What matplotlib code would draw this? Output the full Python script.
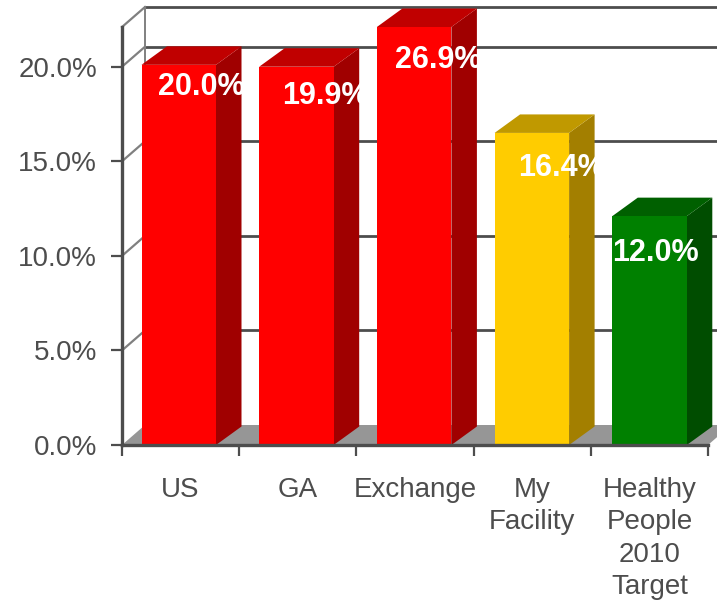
import matplotlib
matplotlib.use('Agg')
import matplotlib.pyplot as plt
from matplotlib.patches import Polygon

plt.rcParams['font.family'] = ['Liberation Sans', 'DejaVu Sans']

categories = ['US', 'GA', 'Exchange', 'My\nFacility', 'Healthy\nPeople\n2010\nTarget']
bar_values = [20.1, 20.0, 22.1, 16.5, 12.1]
bar_labels = ['20.0%', '19.9%', '26.9%', '16.4%', '12.0%']
y_ticks = [0, 5, 10, 15, 20]

front_colors = ['#ff0000', '#ff0000', '#ff0000', '#ffcc00', '#008000']
top_colors = ['#c00000', '#c00000', '#c00000', '#c09900', '#006000']
side_colors = ['#a00000', '#a00000', '#a00000', '#a37f00', '#004d00']

W, H = 717, 600
DARK = '#4d4d4d'
ymax = 22.1

fig = plt.figure(figsize=(W / 100, H / 100), dpi=100, facecolor='white')
ax = fig.add_axes([122 / W, 1 - 445 / H, 586 / W, 418 / H])
ax.set_xlim(0, 5)
ax.set_ylim(0, ymax)
ax.patch.set_visible(False)

# px to data units
px = 5 / 586.0
py = ymax / 418.0

# chart depth
wall_dx = 23 * px
wall_dy = 20 * py

# floor
ax.add_patch(Polygon([(0, 0), (wall_dx, wall_dy), (5 + wall_dx, wall_dy), (5, 0)],
                     fc='#969696', ec='none', clip_on=False, zorder=1))

# back wall lines
for v in y_ticks[1:] + [ymax]:
    ax.plot([wall_dx, 5 + wall_dx], [v + wall_dy, v + wall_dy], color=DARK, lw=2.0,
            clip_on=False, zorder=1.5, solid_capstyle='butt')
    ax.plot([0, wall_dx], [v, v + wall_dy], color='#808080', lw=1.6,
            clip_on=False, zorder=1.5)
ax.plot([wall_dx, wall_dx], [wall_dy, ymax + wall_dy], color='#808080', lw=1.4,
        clip_on=False, zorder=1.5)

# bars
bar_w = 74.5 * px
bar_off = 19.5 * px
bar_pitch = 117.7 * px
dep_x = 25.5 * px
dep_y = 18.5 * py

for i, v in enumerate(bar_values):
    x0 = i * bar_pitch + bar_off
    x1 = x0 + bar_w
    ax.add_patch(Polygon([(x1, 0), (x1 + dep_x, dep_y), (x1 + dep_x, v + dep_y), (x1, v)],
                         fc=side_colors[i], ec='none', clip_on=False, zorder=2))
    ax.add_patch(Polygon([(x0, v), (x0 + dep_x, v + dep_y), (x1 + dep_x, v + dep_y), (x1, v)],
                         fc=top_colors[i], ec='none', clip_on=False, zorder=2))
    ax.add_patch(Polygon([(x0, 0), (x0, v), (x1, v), (x1, 0)],
                         fc=front_colors[i], ec='none', clip_on=False, zorder=3))

# data labels sit at odd places in the original
label_dx = [23, 29, 24, 30, 6]
label_dy = [22, 29, 33, 35, 37]
for i, v in enumerate(bar_values):
    ax.text(i * bar_pitch + bar_off + bar_w / 2 + label_dx[i] * px, v - label_dy[i] * py, bar_labels[i],
            color='white', fontsize=22, fontweight='bold', ha='center', va='center',
            clip_on=True, zorder=4)

# axes
for s in ('top', 'right'):
    ax.spines[s].set_visible(False)
for s in ('left', 'bottom'):
    ax.spines[s].set_color(DARK)
    ax.spines[s].set_linewidth(2.4)
    ax.spines[s].set_zorder(5)

ax.set_yticks(y_ticks)
ax.set_yticklabels(['%.1f%%' % v for v in y_ticks])
ax.tick_params(axis='y', length=8, width=1.6, color=DARK, labelcolor=DARK,
               labelsize=20, pad=10)

ax.set_xticks([i + 0.5 for i in range(5)])
ax.set_xticklabels(categories, linespacing=1.32)
ax.set_xticks(range(6), minor=True)
ax.tick_params(axis='x', which='major', length=0, labelcolor=DARK, labelsize=20, pad=23)
ax.tick_params(axis='x', which='minor', length=8, width=1.6, color=DARK)

fig.savefig('out.png', dpi=100, facecolor='white')
